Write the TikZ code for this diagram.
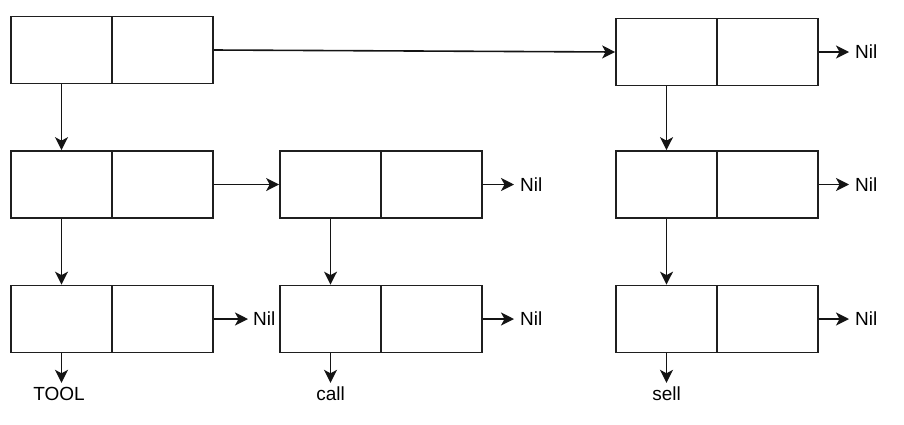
\documentclass[tikz,border=0pt]{standalone}
\usepackage{fontspec}
\setmainfont{Liberation Sans}
\usetikzlibrary{arrows.meta}
\begin{document}
\begin{tikzpicture}[x=1pt,y=-1pt,
  cell/.style={draw=black!88,line width=1.7pt,minimum width=101pt,minimum height=67pt,inner sep=0pt},
  link/.style={line width=1.6pt,draw=black!92,-{Stealth[length=13pt,width=13pt,inset=3.5pt]}},
  nil/.style={anchor=west,inner sep=0pt,font=\fontsize{19}{22}\selectfont},
  lbl/.style={anchor=base,inner sep=0pt,text height=13pt,text depth=4pt,font=\fontsize{19}{22}\selectfont}]
\useasboundingbox (0,0) rectangle (904,424);
% row 1
\node[cell] (a1) at (61.5,50) {};
\node[cell] (a2) at (162.5,50) {};
\node[cell] (d1) at (666.5,52) {};
\node[cell] (d2) at (767.5,52) {};
% row 2
\node[cell] (b1) at (61.5,184.5) {};
\node[cell] (b2) at (162.5,184.5) {};
\node[cell] (c1) at (330.5,184.5) {};
\node[cell] (c2) at (431.5,184.5) {};
\node[cell] (g1) at (666.5,184.5) {};
\node[cell] (g2) at (767.5,184.5) {};
% row 3
\node[cell] (e1) at (61.5,319) {};
\node[cell] (e2) at (162.5,319) {};
\node[cell] (f1) at (330.5,319) {};
\node[cell] (f2) at (431.5,319) {};
\node[cell] (h1) at (666.5,319) {};
\node[cell] (h2) at (767.5,319) {};
% Nil labels
\node[nil] (n1) at (855,52) {Nil};
\node[nil] (n2) at (520,184.5) {Nil};
\node[nil] (n3) at (855,184.5) {Nil};
\node[nil] (n4) at (253,319) {Nil};
\node[nil] (n5) at (520,319) {Nil};
\node[nil] (n6) at (855,319) {Nil};
% bottom labels
\node[lbl] (t1) at (59,400) {TOOL};
\node[lbl] (t2) at (330.5,400) {call};
\node[lbl] (t3) at (666.5,400) {sell};
% connectors
\draw[link] (a2.east) -- (d1.west);
\draw[link] (a1.south) -- (b1.north);
\draw[link] (b2.east) -- (c1.west);
\draw[link] (b1.south) -- (e1.north);
\draw[link] (c1.south) -- (f1.north);
\draw[link] (d1.south) -- (g1.north);
\draw[link] (g1.south) -- (h1.north);
\draw[link,shorten >=6pt] (d2.east) -- (n1.west);
\draw[link,shorten >=6pt] (c2.east) -- (n2.west);
\draw[link,shorten >=6pt] (g2.east) -- (n3.west);
\draw[link,shorten >=5pt] (e2.east) -- (n4.west);
\draw[link,shorten >=6pt] (f2.east) -- (n5.west);
\draw[link,shorten >=6pt] (h2.east) -- (n6.west);
\draw[link,shorten >=4pt] (e1.south) -- (e1.south |- t1.north);
\draw[link,shorten >=4pt] (f1.south) -- (t2.north);
\draw[link,shorten >=4pt] (h1.south) -- (t3.north);
\end{tikzpicture}
\end{document}
